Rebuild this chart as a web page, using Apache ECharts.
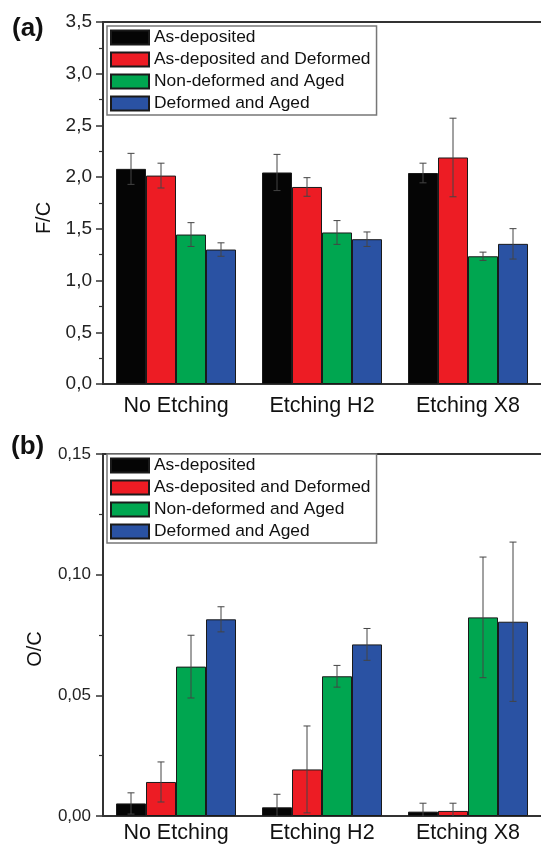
<!DOCTYPE html>
<html>
<head>
<meta charset="utf-8">
<script src="https://cdn.jsdelivr.net/npm/echarts@6/dist/echarts.min.js"></script>
<style>html,body{margin:0;padding:0;background:#fff}#c{width:541px;height:845px}</style>
</head>
<body>
<div id="c"></div>
<script>
const categories = ['No Etching', 'Etching H2', 'Etching X8'];
const seriesNames = ['As-deposited', 'As-deposited and Deformed', 'Non-deformed and Aged', 'Deformed and Aged'];
const colors = ['#050505', '#ed1c24', '#00a650', '#2a52a3'];

// F/C (panel a)
const fcAsDeposited = [2.08, 2.045, 2.04];
const fcAsDepositedErr = [0.15, 0.175, 0.095];
const fcAsDepDeformed = [2.015, 1.905, 2.19];
const fcAsDepDeformedErr = [0.12, 0.09, 0.38];
const fcNonDefAged = [1.445, 1.465, 1.235];
const fcNonDefAgedErr = [0.115, 0.115, 0.04];
const fcDefAged = [1.30, 1.40, 1.355];
const fcDefAgedErr = [0.065, 0.07, 0.147];

// O/C (panel b)
const ocAsDeposited = [0.0052, 0.0036, 0.0018];
const ocAsDepositedErr = [0.0044, 0.0054, 0.0035];
const ocAsDepDeformed = [0.0141, 0.0193, 0.0021];
const ocAsDepDeformedErr = [0.0083, 0.018, 0.0032];
const ocNonDefAged = [0.0619, 0.0579, 0.0823];
const ocNonDefAgedErr = [0.013, 0.0045, 0.025];
const ocDefAged = [0.0815, 0.0711, 0.0805];
const ocDefAgedErr = [0.0052, 0.0066, 0.033];

const fcValues = [fcAsDeposited, fcAsDepDeformed, fcNonDefAged, fcDefAged];
const fcErrors = [fcAsDepositedErr, fcAsDepDeformedErr, fcNonDefAgedErr, fcDefAgedErr];
const ocValues = [ocAsDeposited, ocAsDepDeformed, ocNonDefAged, ocDefAged];
const ocErrors = [ocAsDepositedErr, ocAsDepDeformedErr, ocNonDefAgedErr, ocDefAgedErr];

const FONT = 'Liberation Sans, Arial, Helvetica, sans-serif';
const BAR_W = 30;
const AXIS_COLOR = '#333';

function errorData(values, errors) {
  const d = [];
  values.forEach((arr, s) => arr.forEach((v, c) => d.push([c, s, v, errors[s][c]])));
  return d;
}

function renderError(params, api) {
  const c = api.value(0), s = api.value(1), v = api.value(2), e = api.value(3);
  const x = api.coord([c, v])[0] + (s - 1.5) * BAR_W;
  const yT = api.coord([c, v + e])[1];
  const yB = api.coord([c, v - e])[1];
  const st = { stroke: '#444', lineWidth: 1 };
  return {
    type: 'group',
    children: [
      { type: 'line', shape: { x1: x, y1: yT, x2: x, y2: yB }, style: st },
      { type: 'line', shape: { x1: x - 3.5, y1: yT, x2: x + 3.5, y2: yT }, style: st },
      { type: 'line', shape: { x1: x - 3.5, y1: yB, x2: x + 3.5, y2: yB }, style: st }
    ]
  };
}

function xAxesFor(gridIndex, labelMargin) {
  return [
    {
      type: 'category', gridIndex, data: categories, position: 'bottom',
      axisLine: { lineStyle: { color: AXIS_COLOR, width: 2 } },
      axisTick: { alignWithLabel: true, length: 7, lineStyle: { color: AXIS_COLOR, width: 1.5 } },
      axisLabel: { fontSize: 21.5, color: '#111', fontFamily: FONT, margin: labelMargin },
      splitLine: { show: false }
    },
    {
      type: 'category', gridIndex, data: categories, position: 'bottom',
      axisLine: { show: false },
      axisTick: { length: 4, lineStyle: { color: AXIS_COLOR, width: 1.5 } },
      axisLabel: { show: false },
      splitLine: { show: false }
    },
    {
      type: 'category', gridIndex, data: categories, position: 'top',
      axisLine: { lineStyle: { color: AXIS_COLOR, width: 2 } },
      axisTick: { show: false },
      axisLabel: { show: false },
      splitLine: { show: false }
    }
  ];
}

const legendBase = {
  orient: 'vertical', left: 107, data: seriesNames, icon: 'rect',
  itemWidth: 38, itemHeight: 14, itemGap: 5,
  padding: [3, 6, 3, 3],
  borderColor: '#777', borderWidth: 1.5, backgroundColor: '#fff',
  textStyle: { fontSize: 17.4, lineHeight: 16, color: '#111', fontFamily: FONT },
  selectedMode: false
};

const series = [];
fcValues.forEach((vals, s) => series.push({
  type: 'bar', name: seriesNames[s], xAxisIndex: 0, yAxisIndex: 0, data: vals,
  barWidth: BAR_W, barGap: '0%',
  itemStyle: { color: colors[s], borderColor: '#1a1a1a', borderWidth: 1 }
}));
ocValues.forEach((vals, s) => series.push({
  type: 'bar', name: seriesNames[s], xAxisIndex: 3, yAxisIndex: 1, data: vals,
  barWidth: BAR_W, barGap: '0%',
  itemStyle: { color: colors[s], borderColor: '#1a1a1a', borderWidth: 1 }
}));
series.push({
  type: 'custom', xAxisIndex: 0, yAxisIndex: 0, renderItem: renderError, clip: true,
  data: errorData(fcValues, fcErrors), encode: { x: 0, y: 2 }, z: 10, silent: true
});
series.push({
  type: 'custom', xAxisIndex: 3, yAxisIndex: 1, renderItem: renderError, clip: true,
  data: errorData(ocValues, ocErrors), encode: { x: 0, y: 2 }, z: 10, silent: true
});

const option = {
  animation: false,
  backgroundColor: '#fff',
  grid: [
    { left: 103, top: 22, height: 362, right: -10 },
    { left: 103, top: 454, height: 362, right: -10 }
  ],
  xAxis: [...xAxesFor(0, 11), ...xAxesFor(1, 6)],
  yAxis: [
    {
      type: 'value', gridIndex: 0, min: 0, max: 3.5, interval: 0.5,
      axisLine: { show: true, lineStyle: { color: AXIS_COLOR, width: 2 } },
      axisTick: { show: true, length: 7, lineStyle: { color: AXIS_COLOR, width: 1.5 } },
      minorTick: { show: true, splitNumber: 2, length: 4, lineStyle: { color: AXIS_COLOR, width: 1.2 } },
      axisLabel: { fontSize: 19, color: '#222', fontFamily: FONT, margin: 11,
        formatter: v => v.toFixed(1).replace('.', ',') },
      splitLine: { show: false }
    },
    {
      type: 'value', gridIndex: 1, min: 0, max: 0.15, interval: 0.05,
      axisLine: { show: true, lineStyle: { color: AXIS_COLOR, width: 2 } },
      axisTick: { show: true, length: 7, lineStyle: { color: AXIS_COLOR, width: 1.5 } },
      minorTick: { show: true, splitNumber: 2, length: 4, lineStyle: { color: AXIS_COLOR, width: 1.2 } },
      axisLabel: { fontSize: 17, color: '#222', fontFamily: FONT, margin: 12,
        formatter: v => v.toFixed(2).replace('.', ',') },
      splitLine: { show: false }
    }
  ],
  legend: [
    Object.assign({}, legendBase, { top: 26 }),
    Object.assign({}, legendBase, { top: 454 })
  ],
  graphic: [
    { type: 'text', left: 12, top: 16, style: { text: '(a)', font: 'bold 26px ' + FONT, fill: '#111' } },
    { type: 'text', left: 11, top: 434, style: { text: '(b)', font: 'bold 26px ' + FONT, fill: '#111' } },
    { type: 'text', x: 44, y: 218, rotation: Math.PI / 2,
      style: { text: 'F/C', font: '20px ' + FONT, fill: '#111', align: 'center', verticalAlign: 'middle' } },
    { type: 'text', x: 35, y: 649, rotation: Math.PI / 2,
      style: { text: 'O/C', font: '20px ' + FONT, fill: '#111', align: 'center', verticalAlign: 'middle' } }
  ],
  series
};

const chart = echarts.init(document.getElementById('c'), null, { renderer: 'canvas' });
chart.setOption(option);
</script>
</body>
</html>
